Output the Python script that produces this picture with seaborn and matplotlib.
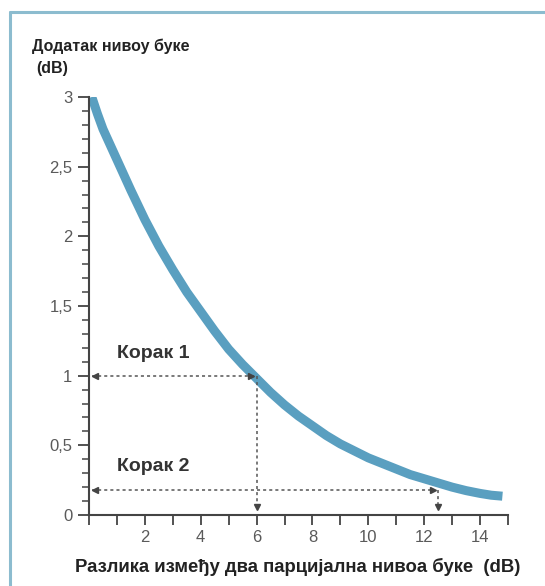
import numpy as np
import pandas as pd
import matplotlib
matplotlib.use("Agg")
import matplotlib.pyplot as plt
import seaborn as sns
from matplotlib.ticker import MultipleLocator, FixedLocator

# curve
diff_db = [0.1, 0.3, 0.5, 1, 1.5, 2, 2.5, 3, 3.5, 4, 4.5, 5, 5.5, 6, 6.5, 7, 7.5, 8, 8.5,
           9, 9.5, 10, 10.5, 11, 11.5, 12, 12.5, 13, 13.5, 14, 14.4, 14.8]
added_db = [3.0, 2.88, 2.77, 2.55, 2.33, 2.12, 1.93, 1.76, 1.60, 1.46, 1.32, 1.19, 1.08,
            0.98, 0.88, 0.79, 0.71, 0.64, 0.57, 0.51, 0.46, 0.41, 0.37, 0.33, 0.29,
            0.26, 0.23, 0.20, 0.175, 0.155, 0.142, 0.135]

# the two worked steps
step_x = [6, 12.5]
step_y = [1.0, 0.18]
step_labels = ["Корак 1", "Корак 2"]
label_pos_y = [1.16, 0.35]

x_ticks = [2, 4, 6, 8, 10, 12, 14]
y_ticks = [0, 0.5, 1, 1.5, 2, 2.5, 3]
y_tick_labels = ["0", "0,5", "1", "1,5", "2", "2,5", "3"]

df = pd.DataFrame({"diff": diff_db, "added": added_db})

sns.set_style("white")
plt.rcParams["font.family"] = ["Liberation Sans", "DejaVu Sans"]

fig = plt.figure(figsize=(5.45, 5.86), dpi=100)
ax = fig.add_axes([89 / 545, 1 - 515 / 586, 419 / 545, 418 / 586])

frame_col = "#8cbccf"
fig.add_artist(plt.Line2D([10 / 545, 1], [1 - 12 / 586, 1 - 12 / 586], color=frame_col, lw=2.2))
fig.add_artist(plt.Line2D([10 / 545, 10 / 545], [0, 1 - 12 / 586], color=frame_col, lw=2.2))

sns.lineplot(data=df, x="diff", y="added", ax=ax, color="#5a9fc0", lw=6.5,
             solid_capstyle="butt", solid_joinstyle="round")

guide = dict(color="#555555", lw=1.1, ls=(0, (2, 2)))
for sx, sy in zip(step_x, step_y):
    ax.plot([0.1, sx - 0.1], [sy, sy], **guide)
    ax.plot([sx, sx], [sy, 0.04], **guide)
    ax.plot([0.2], [sy], marker="<", color="#444444", ms=5)
    ax.plot([sx - 0.2], [sy], marker=">", color="#444444", ms=5)
    ax.plot([sx], [0.06], marker="v", color="#444444", ms=5)

for lab, ly in zip(step_labels, label_pos_y):
    ax.text(1.0, ly, lab, fontsize=14, fontweight="bold", color="#333333",
            ha="left", va="center")

ax.set_xlim(0, 15)
ax.set_ylim(0, 3)
ax.xaxis.set_major_locator(FixedLocator(x_ticks))
ax.xaxis.set_minor_locator(MultipleLocator(1))
ax.set_yticks(y_ticks)
ax.set_yticklabels(y_tick_labels)
ax.yaxis.set_minor_locator(MultipleLocator(0.1))

for side in ["top", "right"]:
    ax.spines[side].set_visible(False)
for side in ["left", "bottom"]:
    ax.spines[side].set_color("#444444")
    ax.spines[side].set_linewidth(1.5)

ax.tick_params(axis="both", which="both", direction="out", color="#444444",
               labelcolor="#5a5a5a", labelsize=12)
ax.tick_params(axis="y", which="major", length=8, width=1.3, left=True, pad=4)
ax.tick_params(axis="y", which="minor", length=5, width=1.1, left=True)
ax.tick_params(axis="x", which="major", length=7, width=1.3, bottom=True, pad=4)
ax.tick_params(axis="x", which="minor", length=7, width=1.3, bottom=True)

ax.set_xlabel("")
ax.set_ylabel("")

fig.text(32 / 545, 1 - 46 / 586, "Додатак нивоу буке", fontsize=11.5,
         fontweight="bold", color="#222222", ha="left", va="center")
fig.text(36 / 545, 1 - 68 / 586, "(dB)", fontsize=11.5,
         fontweight="bold", color="#222222", ha="left", va="center")
fig.text(75 / 545, 1 - 567 / 586, "Разлика између два парцијална нивоа буке  (dB)",
         fontsize=13.3, fontweight="bold", color="#222222", ha="left", va="center")

fig.savefig("out.png", dpi=100)
